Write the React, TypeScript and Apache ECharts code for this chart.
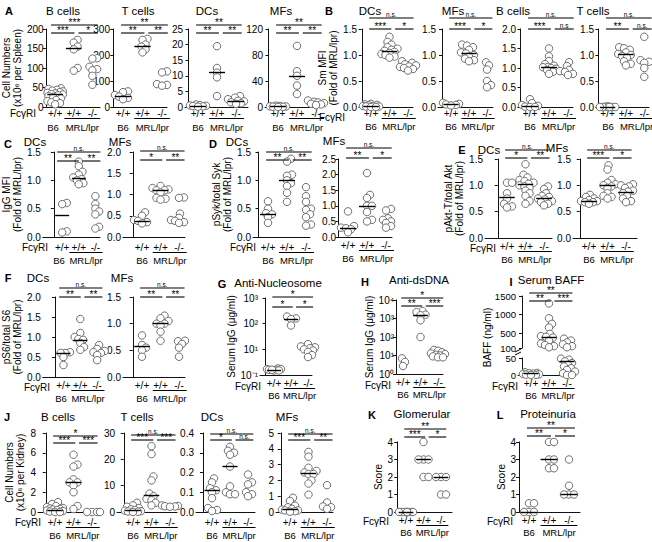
import React, { useEffect, useRef } from "react";
import * as echarts from "echarts";

const FONT = '"Liberation Sans", Arial, sans-serif';
const FONT_N = '"Liberation Sans Narrow", "Liberation Sans", Arial, sans-serif';

// ---- category labels ----
const genotypes = ["+/+", "+/+", "-/-"];
const strainLabels = ["B6", "MRL/lpr"];
const fcLabel = "FcγRI";

// ---- A: spleen cell numbers (x10^6) ----
const aBcB6 = [48, 46, 44, 42, 40, 38, 36, 35, 33, 32, 30, 28, 26, 22, 18, 15, 12, 10, 7];
const aBcWt = [172, 165, 155, 148, 100, 93];
const aBcKo = [125, 124, 103, 97, 94, 80, 57];
const aBcMed = [33, 150, 96];
const aTcB6 = [60, 57, 46, 40, 35, 30];
const aTcWt = [262, 258, 240, 232, 222, 210];
const aTcKo = [137, 133, 88, 85, 82];
const aTcMed = [40, 235, 85];
const aDcB6 = [0.8, 0.6, 0.5, 0.4, 0.3, 0.2, 0.1];
const aDcWt = [19.5, 12.5, 11, 9.5, 3.5];
const aDcKo = [3.5, 3.0, 2.5, 2.0, 1.8, 1.5, 1.2, 1.0];
const aDcMed = [0.4, 11, 2];
const aMfB6 = [2, 1.5, 1, 0.8, 0.5, 0.3, 0.1];
const aMfWt = [94, 55, 48, 33, 20];
const aMfKo = [10, 8, 7, 6, 5, 4, 3];
const aMfMed = [0.8, 48, 6];

// ---- B: Sm MFI ----
const bDcB6 = [0.06, 0.05, 0.04, 0.03, 0.02, 0.02, 0.01, 0.01, 0.0, 0.0];
const bDcWt = [1.35, 1.25, 1.2, 1.15, 1.12, 1.1, 1.08, 1.06, 1.04, 1.02, 1.0, 0.97, 0.95];
const bDcKo = [0.88, 0.85, 0.82, 0.8, 0.78, 0.77, 0.75, 0.73, 0.7];
const bDcMed = [0.02, 1.08, 0.77];
const bMfB6 = [0.08, 0.06, 0.05, 0.04, 0.03];
const bMfWt = [1.2, 1.18, 1.15, 1.1, 1.05, 1.03, 1.0, 0.97, 0.93, 0.9, 0.88];
const bMfKo = [0.86, 0.8, 0.72, 0.5, 0.42, 0.38];
const bMfMed = [0.05, 1.03, 0.57];
const bBcB6 = [0.2, 0.1, 0.05, 0.03, 0.01, 0.0, 0.0];
const bBcWt = [1.5, 1.3, 1.18, 1.1, 1.06, 1.03, 1.02, 1.0, 0.98, 0.95, 0.9, 0.85];
const bBcKo = [1.15, 1.05, 0.95, 0.92, 0.9, 0.85, 0.82];
const bBcMed = [0.02, 1.03, 0.92];
const bTcB6 = [0.01, 0.01, 0.0, 0.0, 0.0, 0.0, 0.0, 0.0];
const bTcWt = [1.15, 1.13, 1.1, 1.05, 1.02, 1.0, 0.98, 0.95, 0.88, 0.83, 0.8];
const bTcKo = [1.35, 0.9, 0.87, 0.85, 0.75, 0.58];
const bTcMed = [0.0, 1.02, 0.86];

// ---- C: IgG MFI ----
const cDcB6 = [0.6, 0.58, 0.1, 0.08];
const cDcWt = [1.33, 1.25, 1.15, 1.1, 1.05, 1.02, 1.0, 0.95, 0.93];
const cDcKo = [0.72, 0.58, 0.5, 0.45, 0.4, 0.18, 0.15];
const cDcMed = [0.38, 1.04, 0.45];
const cMfB6 = [0.58, 0.5, 0.4, 0.38, 0.35, 0.32];
const cMfWt = [1.2, 1.15, 1.12, 1.1, 1.1, 1.05, 0.92, 0.9, 0.88];
const cMfKo = [0.93, 0.92, 0.55, 0.45, 0.4, 0.38, 0.35, 0.33];
const cMfMed = [0.38, 1.1, 0.4];

// ---- D: pSyk/total Syk ----
const dDcB6 = [0.63, 0.5, 0.42, 0.4, 0.35, 0.25];
const dDcWt = [1.38, 1.33, 1.1, 1.08, 1.0, 0.95, 0.9, 0.78, 0.62];
const dDcKo = [0.88, 0.72, 0.62, 0.5, 0.48, 0.4, 0.35, 0.22, 0.2];
const dDcMed = [0.4, 1.0, 0.48];
const dMfB6 = [0.82, 0.35, 0.3, 0.28, 0.25, 0.15];
const dMfWt = [2.05, 1.35, 1.25, 1.0, 1.0, 0.8, 0.55, 0.5];
const dMfKo = [0.9, 0.85, 0.6, 0.55, 0.5, 0.45, 0.35, 0.3];
const dMfMed = [0.28, 1.0, 0.5];

// ---- E: pAkt-T/total Akt ----
const eDcB6 = [1.05, 1.05, 0.85, 0.75, 0.65, 0.6, 0.58];
const eDcWt = [1.4, 1.2, 1.15, 1.1, 1.08, 1.05, 1.03, 1.0, 0.98, 0.95, 0.9, 0.85, 0.8, 0.7, 0.65];
const eDcKo = [0.98, 0.93, 0.85, 0.8, 0.78, 0.75, 0.73, 0.7, 0.68, 0.65, 0.62];
const eDcMed = [0.77, 1.03, 0.75];
const eMfB6 = [0.82, 0.78, 0.75, 0.72, 0.7, 0.7, 0.68, 0.68, 0.65];
const eMfWt = [1.38, 1.3, 1.1, 1.05, 1.02, 1.0, 0.98, 0.95, 0.85, 0.8, 0.78, 0.75];
const eMfKo = [1.02, 1.0, 0.98, 0.95, 0.9, 0.88, 0.85, 0.8, 0.75, 0.7, 0.68];
const eMfMed = [0.7, 1.0, 0.87];

// ---- F: pS6/total S6 ----
const fDcB6 = [0.62, 0.6, 0.6, 0.5, 0.3];
const fDcWt = [1.45, 1.1, 1.0, 0.95, 0.93, 0.85, 0.75, 0.68];
const fDcKo = [0.8, 0.7, 0.65, 0.62, 0.6, 0.55, 0.42];
const fDcMed = [0.6, 0.93, 0.62];
const fMfB6 = [0.78, 0.6, 0.55, 0.5, 0.38];
const fMfWt = [1.15, 1.1, 1.05, 1.0, 1.0, 0.97, 0.85, 0.68];
const fMfKo = [0.68, 0.67, 0.62, 0.55, 0.38];
const fMfMed = [0.57, 1.0, 0.62];

// ---- G: anti-nucleosome (axis units, bottom tick labelled 10^-1) ----
const gB6 = [1.8, 1.7, 1.7, 1.6, 1.6, 1.5, 1.5, 1.6];
const gWt = [190, 160, 150, 85];
const gKo = [16, 13, 12, 11, 10, 9, 8, 6, 5];
const gMed = [1.6, 155, 11];
const gTickLabels = ["10⁻¹", "10¹", "10²", "10³"];

// ---- H: anti-dsDNA ----
const hB6 = [7, 4.5, 2.7];
const hWt = [2500, 2200, 1600, 1500, 800, 100];
const hKo = [20, 18, 15, 13, 12, 11, 10, 9, 8, 8];
const hMed = [5, 1500, 11];
const hTickLabels = ["10⁰", "10¹", "10²", "10³", "10⁴"];

// ---- I: serum BAFF (broken axis) ----
const iB6 = [8, 6, 5, 4, 3, 2, 1, 0.5, 0];
const iWt = [1300, 900, 750, 650, 480, 420, 400, 380, 300, 220, 180, 150, 120];
const iKo = [350, 300, 250, 200, 150, 120, 48, 45, 40, 35, 30, 25, 20, 15, 10, 5, 0, 0];
const iMed = [4, 400, 40];
const iUpperTicks = [100, 500, 1000, 1500];

// ---- J: kidney cell numbers ----
const jBcB6 = [1.0, 0.8, 0.6, 0.5, 0.4, 0.35, 0.3, 0.25, 0.2, 0.15, 0.1, 0.05, 0.0, 0.0];
const jBcWt = [5.8, 4.8, 4.6, 3.3, 3.0, 3.0, 2.7, 2.0, 0.6, 0.3];
const jBcKo = [0, 0, 0, 0];
const jBcMed = [0.2, 3.0, 0];
const jTcB6 = [3.5, 2.5, 2.0, 1.5, 1.0, 0.8, 0.5, 0.3, 0.2, 0.1, 0.0];
const jTcWt = [25, 22, 13.5, 12, 7, 6, 5, 4.5, 3.5, 2.5];
const jTcKo = [2.5, 2.3, 2.2, 2.1, 2.0];
const jTcMed = [0.6, 6.5, 2.2];
const jDcB6 = [0.17, 0.15, 0.12, 0.11, 0.1, 0.07, 0.02, 0.01, 0.005];
const jDcWt = [0.33, 0.31, 0.3, 0.29, 0.23, 0.13, 0.1, 0.09, 0.09];
const jDcKo = [0.19, 0.15, 0.14, 0.1, 0.09, 0.08];
const jDcMed = [0.11, 0.23, 0.14];
const jMfB6 = [0.9, 0.7, 0.4, 0.3, 0.2, 0.15, 0.1, 0.1, 0.05, 0.02];
const jMfWt = [3.8, 3.5, 2.8, 2.6, 2.5, 2.4, 2.4, 2.0, 1.8, 1.1];
const jMfKo = [1.7, 0.6, 0.35, 0.3, 0.2];
const jMfMed = [0.15, 2.45, 0.3];

// ---- K / L: scores ----
const kB6 = [0, 0, 0, 0, 0, 0, 0, 0];
const kWt = [4, 3, 3, 3, 2, 2];
const kKo = [2, 2, 2, 1, 1];
const kMed = [0, 3, 2];
const lB6 = [0.5, 0.5, 0, 0, 0];
const lWt = [4, 4, 3, 3, 2.5, 2.5];
const lKo = [3, 1.5, 1, 1, 1];
const lMed = [0, 3, 1];

// ---- significance: [B6 vs +/+, +/+ vs -/-, B6 vs -/-] ----
const aBcSig = ["***", "*", "***"];
const aTcSig = ["**", "**", "**"];
const aDcSig = ["**", "**", "**"];
const aMfSig = ["**", "**", "**"];
const bDcSig = ["***", "*", "n.s."];
const bMfSig = ["***", "*", "n.s."];
const bBcSig = ["***", "n.s", "n.s."];
const bTcSig = ["**", "n.s.", "n.s."];
const cDcSig = ["**", "**", "n.s."];
const cMfSig = ["*", "**", "n.s."];
const dDcSig = ["**", "**", "n.s."];
const dMfSig = ["**", "*", "n.s."];
const eDcSig = ["*", "**", "n.s."];
const eMfSig = ["***", "*", "n.s."];
const fDcSig = ["**", "**", "n.s."];
const fMfSig = ["**", "**", "n.s."];
const gSig = ["*", "*", "*"];
const hSig = ["**", "***", "*"];
const iSig = ["**", "***", "**"];
const jBcSig = ["***", "***", "*"];
const jTcSig = ["***", "***", "n.s."];
const jDcSig = ["*", "n.s.", "n.s."];
const jMfSig = ["***", "**", "n.s."];
const kSig = ["***", "*", "**"];
const lSig = ["**", "*", "**"];

type Sub = {
  title: string; tx: number; ty: number;
  ax: number; c1: number; s: number; end: number; top: number; bot: number;
  min: number; max: number; iv?: number; dec?: number; log?: boolean; logLabels?: string[];
  data: number[][]; med: number[]; sig: string[]; br: number[];
  name?: string; gap?: number; fc?: boolean; fcx?: number; fcdy?: number; letter?: [string, number, number];
  cat: number; grp: number;
};

const rowA = { top: 29, bot: 107, br: [25, 33], cat: 6, grp: 20, ty: 11, dec: 0 };
const rowB = { top: 29, bot: 107, br: [18, 29], cat: 6, grp: 19, ty: 11, dec: 1, iv: 0.5, min: 0 };

const subs: Sub[] = [
  { ...rowA, title: "B cells", tx: 63, ax: 43, c1: 53, s: 19.5, end: 100, min: 0, max: 200, iv: 50, data: [aBcB6, aBcWt, aBcKo], med: aBcMed, sig: aBcSig, name: "Cell Numbers\n(x10⁶ per Spleen)", gap: 18, fc: true, fcx: 17, letter: ["A", 9, 11] },
  { ...rowA, title: "T cells", tx: 138, ax: 112, c1: 123, s: 19.5, end: 167, min: 0, max: 300, iv: 100, data: [aTcB6, aTcWt, aTcKo], med: aTcMed, sig: aTcSig },
  { ...rowA, title: "DCs", tx: 207, ax: 185, c1: 198, s: 19, end: 248, min: 0, max: 25, iv: 5, data: [aDcB6, aDcWt, aDcKo], med: aDcMed, sig: aDcSig },
  { ...rowA, title: "MFs", tx: 281, ax: 265, c1: 278, s: 19, end: 322, min: 0, max: 120, iv: 40, data: [aMfB6, aMfWt, aMfKo], med: aMfMed, sig: aMfSig },
  { ...rowB, title: "DCs", tx: 370, ax: 359, c1: 371, s: 18.5, end: 413, max: 1.5, data: [bDcB6, bDcWt, bDcKo], med: bDcMed, sig: bDcSig, name: "Sm MFI\n(Fold of MRL/lpr)", gap: 16, fc: true, fcx: 26, fcdy: 4, letter: ["B", 329, 11] },
  { ...rowB, title: "MFs", tx: 453, ax: 438, c1: 451, s: 18, end: 493, max: 1.5, data: [bMfB6, bMfWt, bMfKo], med: bMfMed, sig: bMfSig },
  { ...rowB, title: "B cells", tx: 513, ax: 518, c1: 530, s: 19, end: 573, max: 2.0, data: [bBcB6, bBcWt, bBcKo], med: bBcMed, sig: bBcSig },
  { ...rowB, title: "T cells", tx: 593, ax: 596, c1: 608, s: 19, end: 651, max: 1.5, data: [bTcB6, bTcWt, bTcKo], med: bTcMed, sig: bTcSig },
  { title: "DCs", tx: 35, ty: 142, ax: 38, c1: 59, s: 18, end: 100, top: 152, bot: 237, min: 0, max: 1.5, iv: 0.5, dec: 1, data: [cDcB6, cDcWt, cDcKo], med: cDcMed, sig: cDcSig, br: [152, 161], name: "IgG MFI\n(Fold of MRL/lpr)", gap: 16, fc: true, fcx: 11, letter: ["C", 8, 144], cat: 10, grp: 23 },
  { title: "MFs", tx: 120, ty: 142, ax: 123, c1: 142, s: 18.5, end: 185, top: 152, bot: 237, min: 0, max: 2.0, iv: 0.5, dec: 1, data: [cMfB6, cMfWt, cMfKo], med: cMfMed, sig: cMfSig, br: [151, 160], cat: 10, grp: 23 },
  { title: "DCs", tx: 237, ty: 142, ax: 253, c1: 268, s: 19, end: 310, top: 152, bot: 237, min: 0, max: 1.5, iv: 0.5, dec: 1, data: [dDcB6, dDcWt, dDcKo], med: dDcMed, sig: dDcSig, br: [152, 160], name: "pSyk/total Syk\n(Fold of MRL/lpr)", gap: 16, fc: true, fcx: 12, letter: ["D", 213, 144], cat: 10, grp: 23 },
  { title: "MFs", tx: 334, ty: 141, ax: 338, c1: 348, s: 19, end: 392, top: 159, bot: 237, min: 0, max: 2.5, iv: 0.5, dec: 1, data: [dMfB6, dMfWt, dMfKo], med: dMfMed, sig: dMfSig, br: [148, 158], cat: 8, grp: 21 },
  { title: "DCs", tx: 489, ty: 150, ax: 485, c1: 507, s: 18.5, end: 552, top: 159, bot: 238, min: 0, max: 1.5, iv: 0.5, dec: 1, data: [eDcB6, eDcWt, eDcKo], med: eDcMed, sig: eDcSig, br: [150, 158], name: "pAkt-T/total Akt\n(Fold of MRL/lpr)", gap: 16, fc: true, fcx: 11, fcdy: 2.5, letter: ["E", 462, 150], cat: 8, grp: 21 },
  { title: "MFs", tx: 557, ty: 148, ax: 573, c1: 589, s: 18.5, end: 637, top: 159, bot: 238, min: 0, max: 1.5, iv: 0.5, dec: 1, data: [eMfB6, eMfWt, eMfKo], med: eMfMed, sig: eMfSig, br: [150, 158], cat: 8, grp: 21 },
  { title: "DCs", tx: 38, ty: 278, ax: 39, c1: 61, s: 18, end: 100, top: 297, bot: 377, min: 0, max: 2.0, iv: 0.5, dec: 1, data: [fDcB6, fDcWt, fDcKo], med: fDcMed, sig: fDcSig, br: [288, 297], name: "pS6/total S6\n(Fold of MRL/lpr)", gap: 16, fc: true, fcx: 11, fcdy: 2, letter: ["F", 8, 278], cat: 8, grp: 21 },
  { title: "MFs", tx: 122, ty: 278, ax: 123, c1: 142, s: 18.5, end: 185, top: 297, bot: 377, min: 0, max: 1.5, iv: 0.5, dec: 1, data: [fMfB6, fMfWt, fMfKo], med: fMfMed, sig: fMfSig, br: [288, 297], cat: 8, grp: 21 },
  { title: "Anti-Nucleosome", tx: 278, ty: 283, ax: 260, c1: 274, s: 17, end: 312, top: 298, bot: 375, min: 1, max: 1000, log: true, logLabels: gTickLabels, data: [gB6, gWt, gKo], med: gMed, sig: gSig, br: [297, 307], name: "Serum IgG (μg/ml)", gap: 21, fc: true, fcx: 13, fcdy: 3, letter: ["G", 222, 284], cat: 8, grp: 20 },
  { title: "Anti-dsDNA", tx: 419, ty: 280, ax: 396, c1: 403, s: 17.5, end: 443, top: 300, bot: 374, min: 1, max: 10000, log: true, logLabels: hTickLabels, data: [hB6, hWt, hKo], med: hMed, sig: hSig, br: [298, 306], name: "Serum IgG (μg/ml)", gap: 21, fc: true, fcx: 12, fcdy: 3, letter: ["H", 365, 282], cat: 8, grp: 20 },
  { title: "B cells", tx: 58, ty: 417, ax: 38, c1: 55, s: 18.5, end: 98, top: 433, bot: 512, min: 0, max: 8, iv: 2, dec: 0, data: [jBcB6, jBcWt, jBcKo], med: jBcMed, sig: jBcSig, br: [436, 443], name: "Cell Numbers\n(x10⁶ per Kidney)", gap: 12, fc: true, fcx: 14, letter: ["J", 7, 417], cat: 10, grp: 23 },
  { title: "T cells", tx: 137, ty: 417, ax: 117, c1: 133, s: 18.5, end: 177, top: 433, bot: 512, min: 0, max: 30, iv: 10, dec: 0, data: [jTcB6, jTcWt, jTcKo], med: jTcMed, sig: jTcSig, br: [435, 440], cat: 10, grp: 23 },
  { title: "DCs", tx: 212, ty: 417, ax: 196, c1: 212, s: 18, end: 255, top: 433, bot: 512, min: 0, max: 0.4, iv: 0.1, dec: 1, data: [jDcB6, jDcWt, jDcKo], med: jDcMed, sig: jDcSig, br: [434, 440], cat: 10, grp: 23 },
  { title: "MFs", tx: 287, ty: 417, ax: 276, c1: 290, s: 18.5, end: 333, top: 433, bot: 512, min: 0, max: 5, iv: 1, dec: 0, data: [jMfB6, jMfWt, jMfKo], med: jMfMed, sig: jMfSig, br: [434, 440], cat: 10, grp: 23 },
  { title: "Glomerular", tx: 422, ty: 414, ax: 395, c1: 406, s: 17.5, end: 452, top: 442, bot: 512, min: 0, max: 4, iv: 1, dec: 0, data: [kB6, kWt, kKo], med: kMed, sig: kSig, br: [429, 437], name: "Score", gap: 10, fc: true, fcx: 17, fcdy: 1, letter: ["K", 372, 415], cat: 8, grp: 20 },
  { title: "Proteinuria", tx: 548, ty: 414, ax: 518, c1: 529, s: 20, end: 580, top: 442, bot: 512, min: 0, max: 4, iv: 1, dec: 0, data: [lB6, lWt, lKo], med: lMed, sig: lSig, br: [428, 436], name: "Score", gap: 10, fc: true, fcx: 16, fcdy: 1, letter: ["L", 500, 415], cat: 8, grp: 20 },
];

// Broken-axis panel I
const iLayout = { title: "Serum BAFF", tx: 551, ty: 280, ax: 518, c1: 531, s: 18, end: 575, upTop: 296, upBot: 348, loTop: 357, loBot: 375, br: [293, 301], cat: 8, grp: 20 };

function toPx(v: number, top: number, bot: number, min: number, max: number, log?: boolean) {
  if (log) {
    const a = Math.log10(min), b = Math.log10(max);
    return bot - ((Math.log10(Math.max(v, 1e-9)) - a) / (b - a)) * (bot - top);
  }
  return bot - ((v - min) / (max - min)) * (bot - top);
}

// deterministic horizontal spreading of overlapping points (pixel space)
function swarm(py: number[], s: number): number[] {
  const D = 4.3;
  const maxOff = 0.45 * s;
  const cands = [0];
  for (let k = 1; k <= maxOff; k++) cands.push(k, -k);
  const order = py.map((_, i) => i).sort((a, b) => py[b] - py[a]);
  const placed: { x: number; y: number }[] = [];
  const offs = new Array(py.length).fill(0);
  for (const i of order) {
    let best = 0, bestScore = -Infinity;
    for (const c of cands) {
      let md = Infinity;
      for (const p of placed) md = Math.min(md, Math.hypot(p.x - c, p.y - py[i]));
      if (md >= D) { best = c; break; }
      if (md > bestScore) { bestScore = md; best = c; }
    }
    offs[i] = best;
    placed.push({ x: best, y: py[i] });
  }
  return offs;
}

function buildOption() {
  const grid: any[] = [], xAxis: any[] = [], yAxis: any[] = [], series: any[] = [], graphic: any[] = [];

  const T = (text: string, x: number, y: number, size = 9, o: any = {}) => {
    const align = o.align || "center";
    const va = o.va || "middle";
    graphic.push({
      type: "text", x, y, rotation: o.rot || 0, silent: true, z: 10,
      style: { text, fill: "#000", fontSize: size, fontFamily: o.font || FONT, fontWeight: o.bold ? "bold" : "normal", align, verticalAlign: va, textAlign: align, textVerticalAlign: va },
    });
  };
  const L = (x1: number, y1: number, x2: number, y2: number, w = 1) =>
    graphic.push({ type: "line", silent: true, z: 10, shape: { x1, y1, x2, y2 }, style: { stroke: "#000", lineWidth: w } });

  const addGrid = (g: any, groups: number[][], meds: (number | null)[]) => {
    const gi = grid.length;
    grid.push({ left: g.ax, top: g.top, width: g.end - g.ax, height: g.bot - g.top });
    const xmin = 0.5 - (g.c1 - g.ax) / g.s;
    const xmax = xmin + (g.end - g.ax) / g.s;
    xAxis.push({
      gridIndex: gi, type: "value", min: xmin, max: xmax, position: "bottom",
      axisLine: { show: g.showX, onZero: false, lineStyle: { color: "#111", width: 1 } },
      axisTick: { show: false }, splitLine: { show: false },
      axisLabel: {
        show: g.showX, customValues: [0.5, 1.5, 2.5],
        formatter: (v: number) => genotypes[Math.round(v - 0.5)] ?? "",
        fontSize: 10, fontFamily: FONT, color: "#000", margin: Math.max(0, g.cat - 5),
      },
    });
    const y: any = {
      gridIndex: gi, type: g.log ? "log" : "value", min: g.min, max: g.max, logBase: 10,
      axisLine: { show: true, lineStyle: { color: "#111", width: 1 } },
      axisTick: { show: true, length: 3, lineStyle: { color: "#111", width: 1 } },
      axisLabel: { fontSize: g.tickFont ?? 10, fontFamily: FONT_N, color: "#000", margin: 2, showMinLabel: true, showMaxLabel: true, formatter: g.fmt },
      splitLine: { show: false },
    };
    if (g.iv) y.interval = g.iv;
    if (g.ticks) { y.axisTick.customValues = g.ticks; y.axisLabel.customValues = g.ticks; }
    if (g.name) {
      y.name = g.name; y.nameLocation = "middle"; y.nameGap = g.gap; y.nameRotate = 90;
      y.nameTextStyle = { fontSize: 10, fontFamily: FONT, color: "#000", lineHeight: 11 };
    }
    yAxis.push(y);
    groups.forEach((vals, k) => {
      const py = vals.map((v) => toPx(v, g.top, g.bot, g.min, g.max, g.log));
      const off = swarm(py, g.s);
      const ser: any = {
        type: "scatter", xAxisIndex: gi, yAxisIndex: gi, clip: false, silent: true,
        symbol: "circle", symbolSize: 7.5, z: 3,
        itemStyle: { color: "#ffffff", borderColor: "#707070", borderWidth: 1, opacity: 1 },
        data: vals.map((v, j) => [k + 0.5 + off[j] / g.s, v]),
      };
      const m = meds[k];
      if (m != null) {
        ser.markLine = {
          silent: true, symbol: ["none", "none"], label: { show: false }, z: 5,
          lineStyle: { color: "#000", width: 1.4, type: "solid", opacity: 1 },
          emphasis: { disabled: true },
          data: [[{ coord: [k + 0.5 - 0.42, m] }, { coord: [k + 0.5 + 0.42, m] }]],
        };
      }
      series.push(ser);
    });
  };

  const decorate = (g: any) => {
    const cx = (i: number) => g.c1 + i * g.s;
    const s = g.s;
    const [ty, ly] = g.br;
    const lx1 = cx(0) - 0.1 * s, lx2 = cx(1) + 0.1 * s, rx1 = cx(1) + 0.3 * s, rx2 = cx(2) + 0.3 * s;
    L(lx1, ly, lx2, ly, 1.1);
    L(rx1, ly, rx2, ly, 1.1);
    L(lx1, ty, rx2, ty, 1.1);
    const sig = (t: string, x: number, yy: number) => {
      if (t.startsWith("n")) T(t, x, yy - 0.3, 6.5, { va: "bottom" });
      else T(t, x, yy - 2.3, 10);
    };
    sig(g.sig[0], (lx1 + lx2) / 2, ly);
    sig(g.sig[1], (rx1 + rx2) / 2, ly);
    sig(g.sig[2], (lx1 + rx2) / 2, ty);
    const b = g.xBot;
    T(strainLabels[0], cx(0), b + g.grp, 9.5);
    T(strainLabels[1], (cx(1) + cx(2)) / 2, b + g.grp, 9.5);
    L(cx(1) - 0.42 * s, b + g.cat + 5.5, cx(2) + 0.42 * s, b + g.cat + 5.5, 1.2);
    if (g.fc) T(fcLabel, cx(0) - (g.fcx ?? 14), b + g.cat + (g.fcdy ?? 0), 10, { align: "right" });
    T(g.title, g.tx, g.ty, 11.5);
    if (g.letter) T(g.letter[0], g.letter[1], g.letter[2], 11, { bold: true });
  };

  for (const sub of subs) {
    const fmt = sub.log
      ? (v: number) => {
          const e = Math.round(Math.log10(v));
          return sub.logLabels![Math.max(0, e)] ?? "";
        }
      : (v: number) => v.toFixed(sub.dec ?? 0);
    addGrid({ ...sub, showX: true, fmt }, sub.data, sub.med);
    decorate({ ...sub, xBot: sub.bot });
  }

  // Panel I: broken y axis built from two stacked grids
  const I = iLayout;
  const splitAt = 75;
  const part = (arr: number[], hi: boolean) => arr.filter((v) => (hi ? v >= splitAt : v < splitAt));
  const iGroups = [iB6, iWt, iKo];
  addGrid(
    { ax: I.ax, c1: I.c1, s: I.s, end: I.end, top: I.upTop, bot: I.upBot, min: 100, max: 1500, ticks: iUpperTicks, showX: false, cat: I.cat, tickFont: 9.5, fmt: (v: number) => String(v) },
    iGroups.map((a) => part(a, true)),
    iMed.map((m) => (m >= splitAt ? m : null))
  );
  addGrid(
    { ax: I.ax, c1: I.c1, s: I.s, end: I.end, top: I.loTop + 1, bot: I.loBot, min: 0, max: 50, iv: 50, showX: true, cat: I.cat, tickFont: 9.5, fmt: (v: number) => String(v) },
    iGroups.map((a) => part(a, false)),
    iMed.map((m) => (m < splitAt ? m : null))
  );
  decorate({ ...I, sig: iSig, fc: true, fcx: 13, fcdy: 3, letter: ["I", 511, 282], xBot: I.loBot });
  T("BAFF (ng/ml)", I.ax - 31, (I.upTop + I.loBot) / 2 + 2, 10, { rot: Math.PI / 2 });
  L(I.ax - 3, I.upBot + 4, I.ax + 3, I.upBot + 1, 1);
  L(I.ax - 3, I.upBot + 7, I.ax + 3, I.upBot + 4, 1);

  return {
    animation: false,
    backgroundColor: "#ffffff",
    textStyle: { fontFamily: FONT },
    grid, xAxis, yAxis, series, graphic,
  };
}

export default function App() {
  const ref = useRef<HTMLDivElement>(null);
  useEffect(() => {
    const chart = echarts.init(ref.current!, null, { renderer: "svg" });
    chart.setOption(buildOption() as any);
    return () => chart.dispose();
  }, []);
  return (
    <div
      ref={ref}
      style={{ position: "fixed", left: 0, top: 0, width: 652, height: 542, background: "#fff" }}
    />
  );
}
